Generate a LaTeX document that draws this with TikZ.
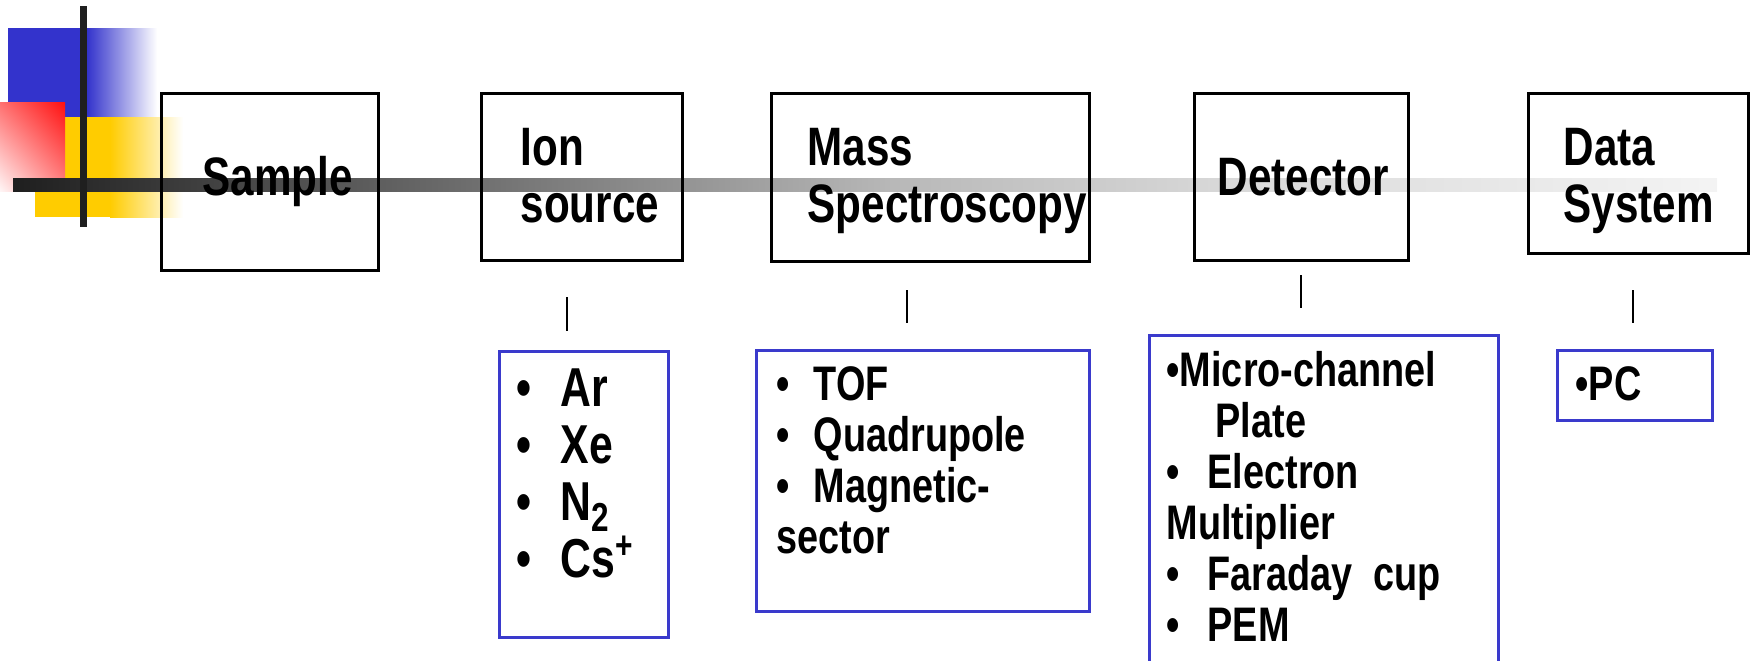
\documentclass[tikz,border=0pt]{standalone}
\usepackage{fontspec}
\usetikzlibrary{shadings}
\setmainfont{Liberation Sans}[FakeStretch=0.78]
\definecolor{decoblue}{HTML}{3333CC}
\definecolor{decoyellow}{HTML}{FFCC00}
\definecolor{decored}{HTML}{FF1010}
\definecolor{listblue}{HTML}{3A3ACC}
\definecolor{barA}{gray}{0.12}
\definecolor{barB}{gray}{0.72}
\definecolor{barC}{gray}{0.85}
\definecolor{barD}{gray}{0.955}
\newcommand\bul[1]{\makebox[#1][l]{\textbullet}}
\newcommand\lowtwo{\raisebox{-3.2pt}{\fontsize{11.5}{12}\selectfont 2}}
\begin{document}
\begin{tikzpicture}[x=0.1mm,y=-0.1mm,
  topbox/.style={draw=black, line width=0.8pt, inner sep=0pt, anchor=north west},
  listbox/.style={draw=listblue, line width=0.75pt, inner sep=0pt, anchor=north west},
  toptext/.style={font=\bfseries\fontsize{15.4}{16.2}\selectfont, inner sep=0pt, anchor=base west, align=left},
  bigtext/.style={font=\bfseries\fontsize{15.6}{16.2}\selectfont, inner sep=0pt, anchor=base west, align=left},
  smalltext/.style={font=\bfseries\fontsize{13.8}{14.5}\selectfont, inner sep=0pt, anchor=base west, align=left},
  tickline/.style={line width=0.75pt, black}]
\useasboundingbox (0,0) rectangle (1750,660);
\clip (0,0) rectangle (1750,660);

% corner ornament: coloured squares
\fill[decoblue] (8,28) rectangle (88,117);
\shade[left color=decoblue, right color=white] (87,28) rectangle (157,117);
\fill[decoyellow] (35,117) rectangle (111,217);
\shade[left color=decoyellow, right color=white] (110,117) rectangle (183,217);
\shade[upper right=decored, upper left=decored!60, lower left=decored!4, lower right=decored!50]
  (0,102) rectangle (65,191);

% horizontal bar fading to the right
\shade[left color=barA, right color=barB] (13,178) rectangle (891,191);
\shade[left color=barB, right color=barC] (890,178) rectangle (1231,191);
\shade[left color=barC, right color=barD] (1230,178) rectangle (1717,191);
% vertical bar
\fill[barA] (80,6) rectangle (87,227);

% stages of the instrument
\node[topbox, minimum width=21.7mm, minimum height=17.7mm] (sample) at (160,92) {};
\node[topbox, minimum width=20.1mm, minimum height=16.7mm] (ion) at (480,92) {};
\node[topbox, minimum width=31.8mm, minimum height=16.8mm] (mass) at (770,92) {};
\node[topbox, minimum width=21.4mm, minimum height=16.7mm] (det) at (1193,92) {};
\node[topbox, minimum width=22.0mm, minimum height=16.0mm] (data) at (1527,92) {};

% labels (multi-line labels are placed by the baseline of their last line)
\node[toptext] (sample-t) at (202,195) {Sample};
\node[toptext] (ion-t) at (520,222) {Ion\\source};
\node[toptext] (mass-t) at (807,222) {Mass\\Spectroscopy};
\node[toptext] (det-t) at (1217,195) {Detector};
\node[toptext] (data-t) at (1563,222) {Data\\System};

% short ticks between stages and their options
\coordinate (k1a) at (567,297); \coordinate (k1b) at (567,331);
\coordinate (k2a) at (907,290); \coordinate (k2b) at (907,323);
\coordinate (k3a) at (1301,275); \coordinate (k3b) at (1301,308);
\coordinate (k4a) at (1633,290); \coordinate (k4b) at (1633,323);
\draw[tickline] (k1a) -- (k1b);
\draw[tickline] (k2a) -- (k2b);
\draw[tickline] (k3a) -- (k3b);
\draw[tickline] (k4a) -- (k4b);

% option lists
\node[listbox, minimum width=16.9mm, minimum height=28.6mm] (ionlist) at (498,350) {};
\node[listbox, minimum width=33.3mm, minimum height=26.1mm] (masslist) at (755,349) {};
\node[listbox, minimum width=34.9mm, minimum height=34.0mm] (detlist) at (1148,334) {};
\node[listbox, minimum width=15.5mm, minimum height=7.0mm] (pclist) at (1556,349) {};

\node[bigtext] (ionlist-t) at (516,577)
  {\bul{4.4mm}Ar\\\bul{4.4mm}Xe\\\bul{4.4mm}N\lowtwo\\\bul{4.4mm}Cs\textsuperscript{+}};
\node[smalltext] (masslist-t) at (776,553)
  {\bul{3.7mm}TOF\\\bul{3.7mm}Quadrupole\\\bul{3.7mm}Magnetic-\\sector};
\node[smalltext] (detlist-t) at (1166,641)
  {\textbullet Micro-channel\\\hspace*{4.9mm}Plate\\\bul{4.1mm}Electron\\Multiplier\\\bul{4.1mm}Faraday\ \ cup\\\bul{4.1mm}PEM};
\node[smalltext] (pclist-t) at (1575,400) {\textbullet PC};
\end{tikzpicture}
\end{document}
